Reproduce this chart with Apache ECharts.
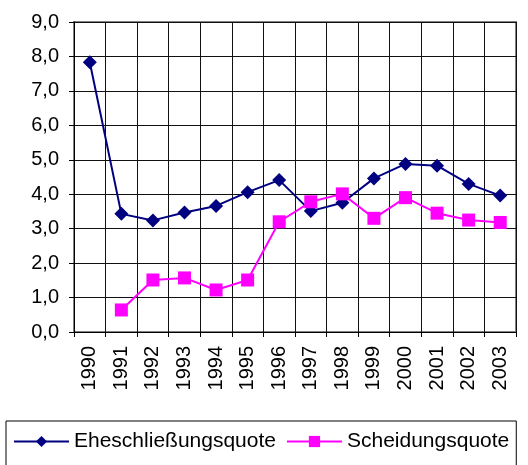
<!DOCTYPE html>
<html><head><meta charset="utf-8">
<script src="https://cdn.jsdelivr.net/npm/echarts@6/dist/echarts.min.js"></script>
<style>html,body{margin:0;padding:0;background:#fff}#c{width:528px;height:465px}</style>
</head><body><div id="c"></div>
<script>
const years = ['1990','1991','1992','1993','1994','1995','1996','1997','1998','1999','2000','2001','2002','2003'];
const ehe = [7.83, 3.43, 3.24, 3.47, 3.66, 4.06, 4.41, 3.51, 3.75, 4.46, 4.88, 4.83, 4.30, 3.96];
const scheidung = [null, 0.64, 1.51, 1.57, 1.22, 1.51, 3.20, 3.78, 4.01, 3.30, 3.90, 3.45, 3.25, 3.18];
const names = ['Eheschließungsquote', 'Scheidungsquote'];

const chart = echarts.init(document.getElementById('c'), null, {renderer: 'canvas'});
const font = 'Arial, "Liberation Sans", sans-serif';
chart.setOption({
  animation: false,
  backgroundColor: '#fff',
  grid: {left: 74, right: 12, top: 22, bottom: 133, show: true, borderColor: '#808080', borderWidth: 2, backgroundColor: 'transparent'},
  xAxis: {
    type: 'category', data: years, boundaryGap: true,
    axisLine: {lineStyle: {color: '#000', width: 1}},
    axisTick: {show: true, length: 5, lineStyle: {color: '#000'}},
    splitLine: {show: true, lineStyle: {color: '#111', width: 1}},
    axisLabel: {rotate: 90, fontFamily: font, fontSize: 20, color: '#000', margin: 14, interval: 0}
  },
  yAxis: {
    type: 'value', min: 0, max: 9, interval: 1,
    axisLine: {show: true, lineStyle: {color: '#000', width: 1}},
    axisTick: {show: true, length: 5, lineStyle: {color: '#000'}},
    splitLine: {show: true, lineStyle: {color: '#111', width: 1}},
    axisLabel: {fontFamily: font, fontSize: 20, color: '#000', margin: 15,
      formatter: v => v.toFixed(1).replace('.', ',')}
  },
  legend: {
    left: 6, top: 421, padding: [10, 7, 30, 7],
    borderColor: '#000', borderWidth: 1,
    itemWidth: 55, itemHeight: 14, itemGap: 10,
    textStyle: {fontFamily: font, fontSize: 21, color: '#000'},
    data: names
  },
  series: [
    {name: names[0], type: 'line', data: ehe, symbol: 'diamond', symbolSize: 14,
      lineStyle: {color: '#000080', width: 2}, itemStyle: {color: '#000080'}},
    {name: names[1], type: 'line', data: scheidung, symbol: 'rect', symbolSize: 13,
      lineStyle: {color: '#FF00FF', width: 2}, itemStyle: {color: '#FF00FF'}}
  ]
});
</script></body></html>
